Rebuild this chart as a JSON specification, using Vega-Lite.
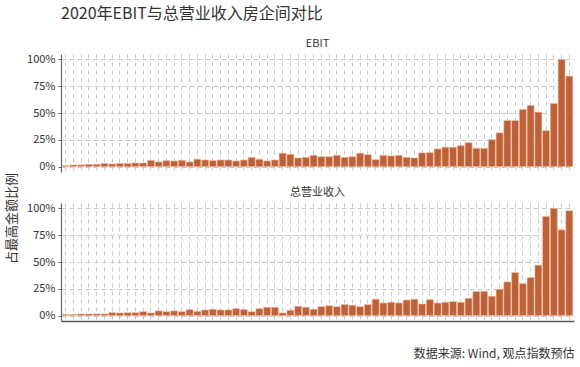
{
  "$schema": "https://vega.github.io/schema/vega-lite/v6.json",
  "padding": {"left": 5, "top": 6, "right": 6, "bottom": 5},
  "background": "white",
  "title": {
    "text": "2020年EBIT与总营业收入房企间对比",
    "anchor": "start",
    "frame": "group",
    "fontSize": 16,
    "fontWeight": "normal",
    "color": "#333333",
    "offset": 16
  },
  "config": {
    "font": "Noto Sans CJK SC",
    "view": {"stroke": null},
    "title": {"font": "Noto Sans CJK SC"},
    "axis": {"labelFont": "Noto Sans CJK SC", "titleFont": "Noto Sans CJK SC"}
  },
  "datasets": {
    "firms": [
      {"firm": 1, "metric": "EBIT", "share": 0.010}, {"firm": 2, "metric": "EBIT", "share": 0.016},
      {"firm": 3, "metric": "EBIT", "share": 0.016}, {"firm": 4, "metric": "EBIT", "share": 0.022},
      {"firm": 5, "metric": "EBIT", "share": 0.022}, {"firm": 6, "metric": "EBIT", "share": 0.030},
      {"firm": 7, "metric": "EBIT", "share": 0.025}, {"firm": 8, "metric": "EBIT", "share": 0.030},
      {"firm": 9, "metric": "EBIT", "share": 0.030}, {"firm": 10, "metric": "EBIT", "share": 0.034},
      {"firm": 11, "metric": "EBIT", "share": 0.034}, {"firm": 12, "metric": "EBIT", "share": 0.059},
      {"firm": 13, "metric": "EBIT", "share": 0.044}, {"firm": 14, "metric": "EBIT", "share": 0.056},
      {"firm": 15, "metric": "EBIT", "share": 0.053}, {"firm": 16, "metric": "EBIT", "share": 0.059},
      {"firm": 17, "metric": "EBIT", "share": 0.044}, {"firm": 18, "metric": "EBIT", "share": 0.069},
      {"firm": 19, "metric": "EBIT", "share": 0.062}, {"firm": 20, "metric": "EBIT", "share": 0.056},
      {"firm": 21, "metric": "EBIT", "share": 0.062}, {"firm": 22, "metric": "EBIT", "share": 0.062},
      {"firm": 23, "metric": "EBIT", "share": 0.053}, {"firm": 24, "metric": "EBIT", "share": 0.062},
      {"firm": 25, "metric": "EBIT", "share": 0.087}, {"firm": 26, "metric": "EBIT", "share": 0.069},
      {"firm": 27, "metric": "EBIT", "share": 0.053}, {"firm": 28, "metric": "EBIT", "share": 0.062},
      {"firm": 29, "metric": "EBIT", "share": 0.125}, {"firm": 30, "metric": "EBIT", "share": 0.115},
      {"firm": 31, "metric": "EBIT", "share": 0.081}, {"firm": 32, "metric": "EBIT", "share": 0.087},
      {"firm": 33, "metric": "EBIT", "share": 0.106}, {"firm": 34, "metric": "EBIT", "share": 0.093},
      {"firm": 35, "metric": "EBIT", "share": 0.093}, {"firm": 36, "metric": "EBIT", "share": 0.106},
      {"firm": 37, "metric": "EBIT", "share": 0.087}, {"firm": 38, "metric": "EBIT", "share": 0.093},
      {"firm": 39, "metric": "EBIT", "share": 0.125}, {"firm": 40, "metric": "EBIT", "share": 0.112},
      {"firm": 41, "metric": "EBIT", "share": 0.065}, {"firm": 42, "metric": "EBIT", "share": 0.106},
      {"firm": 43, "metric": "EBIT", "share": 0.100}, {"firm": 44, "metric": "EBIT", "share": 0.106},
      {"firm": 45, "metric": "EBIT", "share": 0.087}, {"firm": 46, "metric": "EBIT", "share": 0.081},
      {"firm": 47, "metric": "EBIT", "share": 0.128}, {"firm": 48, "metric": "EBIT", "share": 0.131},
      {"firm": 49, "metric": "EBIT", "share": 0.165}, {"firm": 50, "metric": "EBIT", "share": 0.181},
      {"firm": 51, "metric": "EBIT", "share": 0.181}, {"firm": 52, "metric": "EBIT", "share": 0.196},
      {"firm": 53, "metric": "EBIT", "share": 0.224}, {"firm": 54, "metric": "EBIT", "share": 0.171},
      {"firm": 55, "metric": "EBIT", "share": 0.171}, {"firm": 56, "metric": "EBIT", "share": 0.252},
      {"firm": 57, "metric": "EBIT", "share": 0.315}, {"firm": 58, "metric": "EBIT", "share": 0.430},
      {"firm": 59, "metric": "EBIT", "share": 0.430}, {"firm": 60, "metric": "EBIT", "share": 0.533},
      {"firm": 61, "metric": "EBIT", "share": 0.570}, {"firm": 62, "metric": "EBIT", "share": 0.508},
      {"firm": 63, "metric": "EBIT", "share": 0.336}, {"firm": 64, "metric": "EBIT", "share": 0.589},
      {"firm": 65, "metric": "EBIT", "share": 1.000}, {"firm": 66, "metric": "EBIT", "share": 0.844},

      {"firm": 1, "metric": "总营业收入", "share": 0.012}, {"firm": 2, "metric": "总营业收入", "share": 0.012},
      {"firm": 3, "metric": "总营业收入", "share": 0.016}, {"firm": 4, "metric": "总营业收入", "share": 0.016},
      {"firm": 5, "metric": "总营业收入", "share": 0.016}, {"firm": 6, "metric": "总营业收入", "share": 0.016},
      {"firm": 7, "metric": "总营业收入", "share": 0.028}, {"firm": 8, "metric": "总营业收入", "share": 0.025},
      {"firm": 9, "metric": "总营业收入", "share": 0.028}, {"firm": 10, "metric": "总营业收入", "share": 0.028},
      {"firm": 11, "metric": "总营业收入", "share": 0.037}, {"firm": 12, "metric": "总营业收入", "share": 0.025},
      {"firm": 13, "metric": "总营业收入", "share": 0.044}, {"firm": 14, "metric": "总营业收入", "share": 0.037},
      {"firm": 15, "metric": "总营业收入", "share": 0.044}, {"firm": 16, "metric": "总营业收入", "share": 0.037},
      {"firm": 17, "metric": "总营业收入", "share": 0.056}, {"firm": 18, "metric": "总营业收入", "share": 0.040},
      {"firm": 19, "metric": "总营业收入", "share": 0.053}, {"firm": 20, "metric": "总营业收入", "share": 0.059},
      {"firm": 21, "metric": "总营业收入", "share": 0.053}, {"firm": 22, "metric": "总营业收入", "share": 0.053},
      {"firm": 23, "metric": "总营业收入", "share": 0.065}, {"firm": 24, "metric": "总营业收入", "share": 0.056},
      {"firm": 25, "metric": "总营业收入", "share": 0.037}, {"firm": 26, "metric": "总营业收入", "share": 0.065},
      {"firm": 27, "metric": "总营业收入", "share": 0.078}, {"firm": 28, "metric": "总营业收入", "share": 0.078},
      {"firm": 29, "metric": "总营业收入", "share": 0.025}, {"firm": 30, "metric": "总营业收入", "share": 0.050},
      {"firm": 31, "metric": "总营业收入", "share": 0.087}, {"firm": 32, "metric": "总营业收入", "share": 0.078},
      {"firm": 33, "metric": "总营业收入", "share": 0.059}, {"firm": 34, "metric": "总营业收入", "share": 0.084},
      {"firm": 35, "metric": "总营业收入", "share": 0.093}, {"firm": 36, "metric": "总营业收入", "share": 0.084},
      {"firm": 37, "metric": "总营业收入", "share": 0.103}, {"firm": 38, "metric": "总营业收入", "share": 0.097},
      {"firm": 39, "metric": "总营业收入", "share": 0.084}, {"firm": 40, "metric": "总营业收入", "share": 0.103},
      {"firm": 41, "metric": "总营业收入", "share": 0.153}, {"firm": 42, "metric": "总营业收入", "share": 0.118},
      {"firm": 43, "metric": "总营业收入", "share": 0.125}, {"firm": 44, "metric": "总营业收入", "share": 0.118},
      {"firm": 45, "metric": "总营业收入", "share": 0.146}, {"firm": 46, "metric": "总营业收入", "share": 0.153},
      {"firm": 47, "metric": "总营业收入", "share": 0.109}, {"firm": 48, "metric": "总营业收入", "share": 0.150},
      {"firm": 49, "metric": "总营业收入", "share": 0.118}, {"firm": 50, "metric": "总营业收入", "share": 0.125},
      {"firm": 51, "metric": "总营业收入", "share": 0.131}, {"firm": 52, "metric": "总营业收入", "share": 0.125},
      {"firm": 53, "metric": "总营业收入", "share": 0.162}, {"firm": 54, "metric": "总营业收入", "share": 0.224},
      {"firm": 55, "metric": "总营业收入", "share": 0.227}, {"firm": 56, "metric": "总营业收入", "share": 0.181},
      {"firm": 57, "metric": "总营业收入", "share": 0.246}, {"firm": 58, "metric": "总营业收入", "share": 0.315},
      {"firm": 59, "metric": "总营业收入", "share": 0.402}, {"firm": 60, "metric": "总营业收入", "share": 0.299},
      {"firm": 61, "metric": "总营业收入", "share": 0.355}, {"firm": 62, "metric": "总营业收入", "share": 0.470},
      {"firm": 63, "metric": "总营业收入", "share": 0.925}, {"firm": 64, "metric": "总营业收入", "share": 1.000},
      {"firm": 65, "metric": "总营业收入", "share": 0.800}, {"firm": 66, "metric": "总营业收入", "share": 0.978}
    ]
  },
  "data": {"name": "firms"},
  "bounds": "flush",
  "spacing": 31,
  "vconcat": [
    {
      "width": 513,
      "height": 118,
      "title": {"text": "EBIT", "fontSize": 11, "fontWeight": "normal", "color": "#333333", "anchor": "middle", "offset": 4},
      "transform": [{"filter": "datum.metric === 'EBIT'"}],
      "mark": {"type": "bar", "color": "#bf6136", "stroke": "#ecc0a8", "strokeWidth": 0.6},
      "encoding": {
        "x": {
          "field": "firm", "type": "ordinal",
          "scale": {"paddingInner": 0.1, "paddingOuter": 0.15},
          "axis": {"title": null, "labels": false, "ticks": false, "domain": false, "grid": true, "bandPosition": 0.5,
                   "gridColor": "#c8c8c8", "gridDash": [4, 4], "gridWidth": 1}
        },
        "y": {
          "field": "share", "type": "quantitative",
          "scale": {"domain": [-0.05, 1.05], "nice": false, "zero": false},
          "axis": {"title": "占最高金额比例", "titleFontSize": 13, "titleFontWeight": "normal", "titleColor": "#333333",
                   "titleY": 164, "titlePadding": 8,
                   "values": [0, 0.25, 0.5, 0.75, 1], "format": ".0%",
                   "labelFontSize": 11, "labelColor": "#333333", "labelPadding": 3,
                   "domainColor": "#666666", "domainWidth": 1.2, "tickColor": "#666666", "tickSize": 3,
                   "gridColor": "#c8c8c8", "gridDash": [5, 3], "gridWidth": 1}
        },
        "y2": {"datum": 0}
      }
    },
    {
      "width": 513,
      "height": 118,
      "title": {"text": "总营业收入", "fontSize": 11, "fontWeight": "normal", "color": "#333333", "anchor": "middle", "offset": 4},
      "transform": [{"filter": "datum.metric === '总营业收入'"}],
      "mark": {"type": "bar", "color": "#bf6136", "stroke": "#ecc0a8", "strokeWidth": 0.6},
      "encoding": {
        "x": {
          "field": "firm", "type": "ordinal",
          "scale": {"paddingInner": 0.1, "paddingOuter": 0.15},
          "axis": {"title": "数据来源: Wind, 观点指数预估", "titleAnchor": "end", "titleFontSize": 12,
                   "titleFontWeight": "normal", "titleColor": "#333333", "titlePadding": 27,
                   "labels": false, "ticks": false, "domain": true, "domainColor": "#555555", "domainWidth": 1.5,
                   "grid": true, "bandPosition": 0.5,
                   "gridColor": "#c8c8c8", "gridDash": [4, 4], "gridWidth": 1}
        },
        "y": {
          "field": "share", "type": "quantitative",
          "scale": {"domain": [-0.05, 1.05], "nice": false, "zero": false},
          "axis": {"title": null,
                   "values": [0, 0.25, 0.5, 0.75, 1], "format": ".0%",
                   "labelFontSize": 11, "labelColor": "#333333", "labelPadding": 3,
                   "domainColor": "#666666", "domainWidth": 1.2, "tickColor": "#666666", "tickSize": 3,
                   "gridColor": "#c8c8c8", "gridDash": [5, 3], "gridWidth": 1}
        },
        "y2": {"datum": 0}
      }
    }
  ]
}
